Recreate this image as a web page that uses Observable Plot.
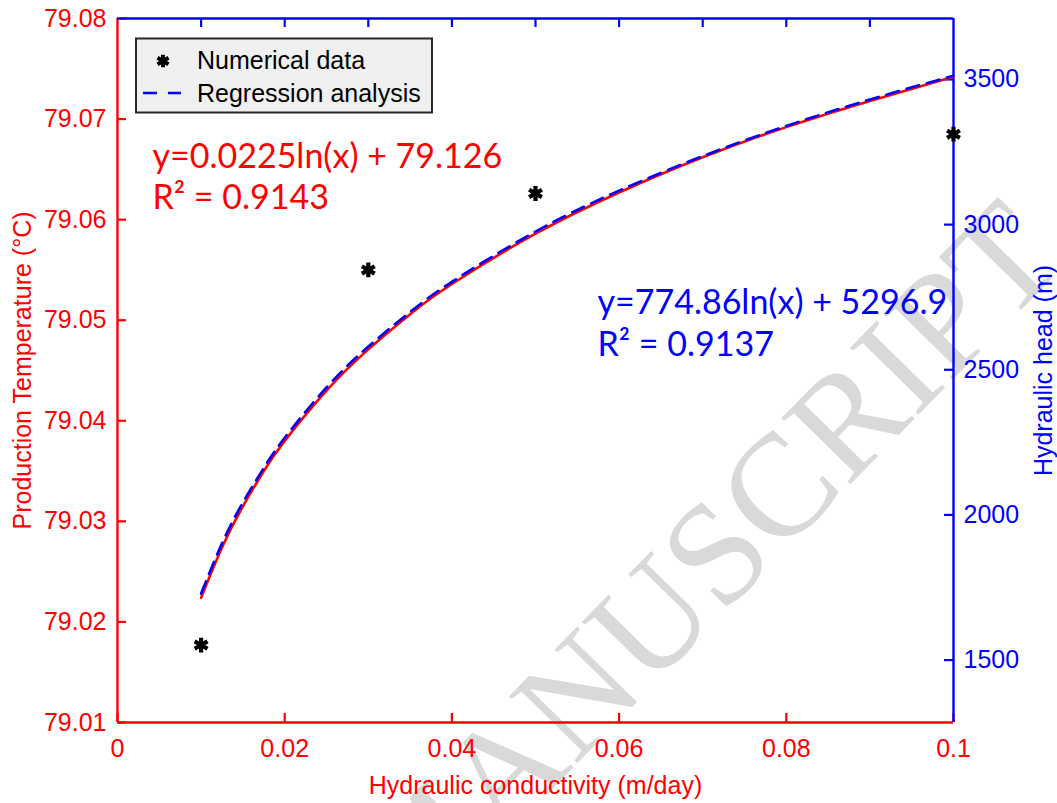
<!DOCTYPE html>
<html><head><meta charset="utf-8">
<script src="https://cdn.jsdelivr.net/npm/d3@7"></script>
<script src="https://cdn.jsdelivr.net/npm/@observablehq/plot@0.6"></script>
<style>html,body{margin:0;padding:0;background:#fff;overflow:hidden}</style>
</head><body><div id="chart"></div>
<script>
// ---- data ----
const conductivity = [0.01, 0.03, 0.05, 0.1];
const numericalTemp = [79.0177, 79.0550, 79.0626, 79.0685];

const fitK    = [0.01, 0.0125, 0.015, 0.0175, 0.02, 0.025, 0.03, 0.035, 0.04, 0.05, 0.06, 0.07, 0.08, 0.09, 0.1];
const fitTemp = [79.0224, 79.0274, 79.0315, 79.0350, 79.0380, 79.0430, 79.0471, 79.0506, 79.0536, 79.0586, 79.0627, 79.0662, 79.0692, 79.0718, 79.0742];
const fitHead = [1729, 1902, 2043, 2162, 2266, 2439, 2580, 2699, 2803, 2976, 3117, 3236, 3340, 3431, 3513];

const xTicks = [0, 0.02, 0.04, 0.06, 0.08, 0.1];
const xTopTicks = [0.01, 0.02, 0.03, 0.04, 0.05, 0.06, 0.07, 0.08, 0.09];
const tempTicks = [79.01, 79.02, 79.03, 79.04, 79.05, 79.06, 79.07, 79.08];
const headTicks = [1500, 2000, 2500, 3000, 3500];
const xDomain = [0, 0.1];
const tempDomain = [79.01, 79.08];
const headDomain = [1285, 3710];

const tempEq = "y=0.0225ln(x) + 79.126\nR² = 0.9143";
const headEq = "y=774.86ln(x) + 5296.9\nR² = 0.9137";
const legendLabels = ["Numerical data", "Regression analysis"];

// ---- build ----
const RED = "#ff0000", BLUE = "#0000ff";
const W = 1057, H = 803, mT = 18, mB = 81, mL = 117, mR = 104;
const plotW = W - mL - mR, plotH = H - mT - mB;
const headToTemp = d3.scaleLinear().domain(headDomain).range(tempDomain);

const numerical = conductivity.map((k, i) => ({k, t: numericalTemp[i]}));
const fitT = fitK.map((k, i) => ({k, t: fitTemp[i]}));
const fitH = fitK.map((k, i) => ({k, t: headToTemp(fitHead[i])}));
const fmtX = d => String(+d.toFixed(2));
const SANS = "'Liberation Sans', Arial, sans-serif";
const EQF = "Lato, 'Open Sans', sans-serif";

const chart = Plot.plot({
  width: W, height: H,
  marginTop: mT, marginBottom: mB, marginLeft: mL, marginRight: mR,
  style: {fontFamily: SANS, fontSize: "25px", background: "white", overflow: "visible"},
  x: {domain: xDomain},
  y: {domain: tempDomain},
  marks: [
    // axis labels
    Plot.axisX(xTicks, {anchor: "bottom", tickSize: 0, tickPadding: 17, fontSize: 25, color: RED, tickFormat: fmtX, label: null}),
    Plot.axisY(tempTicks, {anchor: "left", tickSize: 0, tickPadding: 11, fontSize: 25, color: RED, tickFormat: d3.format(".2f"), label: null}),
    Plot.axisY(headTicks.map(headToTemp), {anchor: "right", tickSize: 0, tickPadding: 10, fontSize: 25, color: BLUE, tickFormat: d => String(Math.round(headToTemp.invert(d) / 100) * 100), label: null}),
    // inward tick marks
    Plot.tickX(xTicks, {x: d => d, stroke: RED, strokeWidth: 2.2, insetTop: plotH - 9}),
    Plot.tickX(xTopTicks, {x: d => d, stroke: BLUE, strokeWidth: 2.2, insetBottom: plotH - 9}),
    Plot.tickY(tempTicks, {y: d => d, stroke: RED, strokeWidth: 2.2, insetRight: plotW - 9}),
    Plot.tickY(headTicks.map(headToTemp), {y: d => d, stroke: BLUE, strokeWidth: 2.2, insetLeft: plotW - 9}),
    // frame
    Plot.ruleX([xDomain[0]], {stroke: RED, strokeWidth: 2.4}),
    Plot.ruleY([tempDomain[0]], {stroke: RED, strokeWidth: 2.4}),
    Plot.ruleY([tempDomain[1]], {stroke: BLUE, strokeWidth: 2.4}),
    Plot.ruleX([xDomain[1]], {stroke: BLUE, strokeWidth: 2.4}),
    // curves
    Plot.line(fitT, {x: "k", y: "t", stroke: RED, strokeWidth: 2.6, curve: "natural"}),
    Plot.line(fitH, {x: "k", y: "t", stroke: BLUE, strokeWidth: 2.6, strokeDasharray: "13,8", curve: "natural"}),
    // numerical points
    Plot.dot(numerical, {x: "k", y: "t", symbol: "asterisk", r: 7, stroke: "black", strokeWidth: 4.2}),
    // axis titles
    Plot.text(["Hydraulic conductivity (m/day)"], {frameAnchor: "bottom", dy: 71, textAnchor: "middle", lineAnchor: "bottom", fontSize: 25, fill: RED}),
    Plot.text(["Production Temperature (°C)"], {frameAnchor: "left", dx: -95, rotate: -90, textAnchor: "middle", lineAnchor: "middle", fontSize: 25, fill: RED}),
    Plot.text(["Hydraulic head (m)"], {frameAnchor: "right", dx: 90, rotate: -90, textAnchor: "middle", lineAnchor: "middle", fontSize: 25, fill: BLUE}),
    // regression equations
    Plot.text([tempEq], {frameAnchor: "top-left", dx: 35, dy: 190, textAnchor: "start", lineAnchor: "bottom", lineHeight: 41 / 34, fontSize: 34, fontFamily: EQF, fill: RED}),
    Plot.text([headEq], {frameAnchor: "top-left", dx: 480, dy: 337, textAnchor: "start", lineAnchor: "bottom", lineHeight: 42 / 34, fontSize: 34, fontFamily: EQF, fill: BLUE})
  ]
});
document.getElementById("chart").appendChild(chart);

const svg = d3.select(chart);
// watermark (behind everything)
svg.insert("text", ":first-child")
  .attr("transform", "translate(1068,262) rotate(-45.6)")
  .attr("text-anchor", "end")
  .attr("font-family", "'Liberation Serif', 'DejaVu Serif', serif")
  .attr("font-size", 146)
  .attr("fill", "#d9d9d9")
  .text("ACCEPTED MANUSCRIPT");

// legend box
const lg = svg.append("g").attr("font-family", SANS).attr("font-size", 25).attr("text-anchor", "start");
lg.append("rect").attr("x", 136).attr("y", 38.5).attr("width", 296).attr("height", 74)
  .attr("fill", "#f0f0f0").attr("stroke", "#262626").attr("stroke-width", 2);
lg.append("path").attr("transform", "translate(163,61)")
  .attr("d", d3.symbol(d3.symbolAsterisk, Math.PI * 36)())
  .attr("fill", "none").attr("stroke", "black").attr("stroke-width", 4);
lg.append("line").attr("x1", 143).attr("x2", 181).attr("y1", 93).attr("y2", 93)
  .attr("stroke", BLUE).attr("stroke-width", 2.6).attr("stroke-dasharray", "14,11");
lg.append("text").attr("x", 197).attr("y", 69).attr("fill", "black").text(legendLabels[0]);
lg.append("text").attr("x", 197).attr("y", 102).attr("fill", "black").text(legendLabels[1]);
</script>
</body></html>
